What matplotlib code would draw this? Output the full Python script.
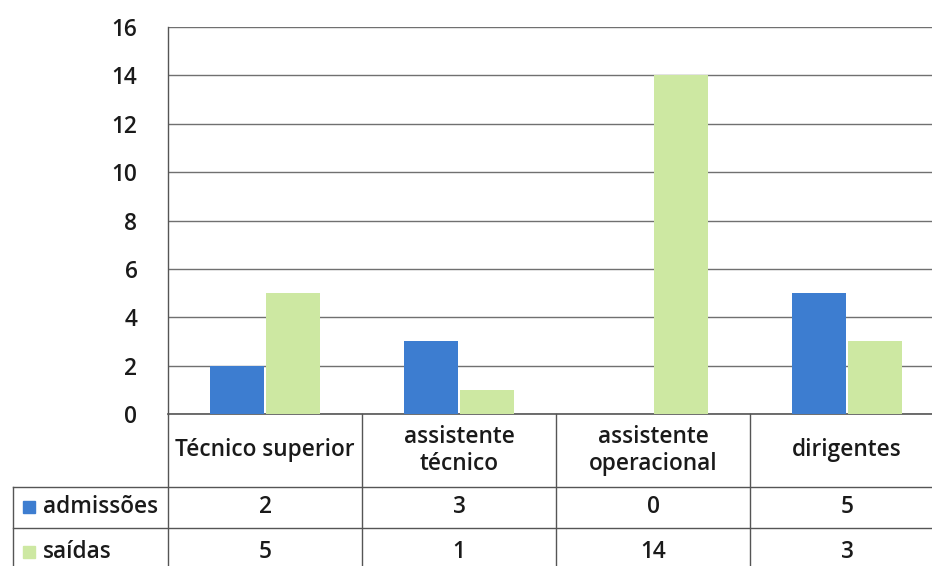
import matplotlib.pyplot as plt
from matplotlib.transforms import blended_transform_factory
import numpy as np

plt.rcParams['font.family'] = ['Open Sans', 'DejaVu Sans']
plt.rcParams['font.weight'] = 'semibold'

categorias = ['Técnico superior', 'assistente\ntécnico', 'assistente\noperacional', 'dirigentes']
series = ['admissões', 'saídas']
admissoes = [2, 3, 0, 5]
saidas = [5, 1, 14, 3]
cores = ['#3d7dd0', '#cde8a2']

fs = 16.3
tc = '#1a1a1a'

fig = plt.figure(figsize=(9.32, 5.66), dpi=100)
ax = fig.add_axes([168 / 932, 1 - 414 / 566, 776 / 932, 387 / 566])

x = np.arange(len(categorias))
w = 0.28
ax.bar(x - w / 2 - 0.005, admissoes, w, color=cores[0], zorder=3)
ax.bar(x + w / 2 + 0.005, saidas, w, color=cores[1], zorder=3)

ax.set_xlim(-0.5, 3.5)
ax.set_ylim(0, 16)
ax.set_yticks(range(0, 17, 2))
ax.tick_params(axis='y', length=0, pad=22, labelsize=fs, labelcolor=tc)
ax.set_xticks([])
ax.grid(axis='y', color='#707070', linewidth=1.0, zorder=0)
for s in ['top', 'right', 'bottom']:
    ax.spines[s].set_visible(False)
ax.spines['left'].set_color('#555555')
ax.spines['left'].set_linewidth(1.0)

# tabela de dados por baixo do grafico
tr = blended_transform_factory(ax.transData, ax.transAxes)
px = 1 / 776  # um pixel em fracao do eixo (horizontal)
py = 1 / 387
y_cab = -73 * py
y_l1 = -114 * py
y_fim = -160 * py
lc = '#555555'

for b in np.arange(-0.5, 4, 1.0):
    ax.plot([b, b], [0, y_fim], transform=tr, color=lc, lw=1.0, clip_on=False)
ax.plot([-0.5, 3.5], [0, 0], transform=tr, color=lc, lw=1.2, clip_on=False)
for yy in [y_cab, y_l1]:
    ax.plot([-155 * px, 1], [yy, yy], transform=ax.transAxes, color=lc, lw=1.0,
            clip_on=False)
ax.plot([-155 * px, -155 * px], [y_cab, y_fim], transform=ax.transAxes, color=lc,
        lw=1.0, clip_on=False)

for i, c in enumerate(categorias):
    ax.text(x[i], y_cab / 2, c, transform=tr, ha='center', va='center',
            fontsize=fs, color=tc, linespacing=1.2)

linhas = [admissoes, saidas]
ys = [-93 * py, -138 * py]
for j, (nome, vals) in enumerate(zip(series, linhas)):
    ax.plot([-139.5 * px], [ys[j]], transform=ax.transAxes, marker='s', ms=8,
            color=cores[j], clip_on=False)
    ax.text(-125 * px, ys[j], nome, transform=ax.transAxes, ha='left', va='center',
            fontsize=fs, color=tc)
    for i, v in enumerate(vals):
        ax.text(x[i], ys[j], str(v), transform=tr, ha='center', va='center',
                fontsize=fs, color=tc)

fig.savefig('out.png', dpi=100)
